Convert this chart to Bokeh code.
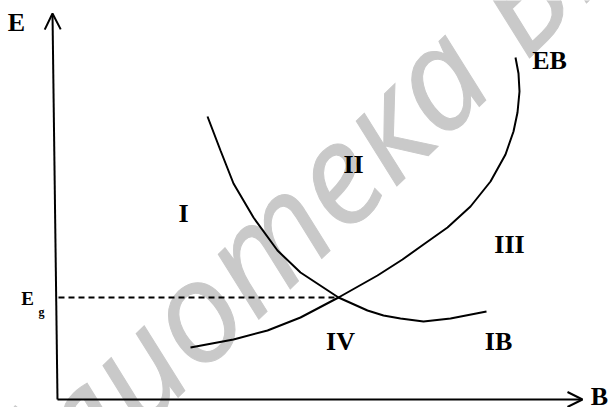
from bokeh.plotting import figure
from bokeh.models import Range1d, Arrow, OpenHead, Label, ColumnDataSource
from bokeh.core.properties import value
from bokeh.embed import file_html
from bokeh.resources import INLINE

# EB curve (B, E)
eb_b = [134, 177, 211, 244, 282, 321, 346, 367, 391, 414, 434, 449, 457, 461, 463, 462, 459]
eb_e = [52, 60, 69, 82, 102, 124, 140, 155, 172, 193, 218, 245, 268, 287, 308, 326, 342]
# IB curve (B, E)
ib_b = [151, 164, 177, 197, 221, 244, 282, 311, 327, 344, 367, 394, 430]
ib_e = [283, 249, 216, 182, 149, 127, 102, 89, 84, 81, 78, 81, 88]
# equilibrium point
eg_b = 282
eg_e = 102
# axis extents
b_max = 526
e_max = 386
e_axis_top_b = -4

# region / curve labels
lbl_text = ["E", "B", "EB", "I", "II", "III", "IV", "IB", "E", "g"]
lbl_x = [-40, 543, 493, 127, 297, 453, 284, 442, -29, -15]
lbl_y = [377, 3, 339, 186, 235, 155, 58, 58, 101, 88]
lbl_size = ["26px", "26px", "26px", "26px", "26px", "26px", "26px", "26px", "19px", "12px"]

p = figure(width=609, height=407, x_range=Range1d(-56, 553), y_range=Range1d(-8, 399),
           output_backend="svg", toolbar_location=None,
           x_axis_type=None, y_axis_type=None, min_border=0)
p.outline_line_color = None
p.background_fill_color = "white"

# watermark
wm_kw = dict(x=105, y=62, angle=0.768, text_font="Open Sans", text_font_style="italic",
             text_font_size="140px", text_color="#c9c9c9", text_outline_color="#c9c9c9",
             text_baseline="alphabetic", level="underlay")
p.add_layout(Label(text="Библи", text_align="right", **wm_kw))
p.add_layout(Label(text="отека БГУИР", text_align="left", **wm_kw))

# axes with arrows
p.add_layout(Arrow(end=OpenHead(size=16, line_width=2, line_color="black"),
                   x_start=1, y_start=0, x_end=e_axis_top_b, y_end=e_max,
                   line_width=2, line_color="black"))
p.add_layout(Arrow(end=OpenHead(size=15, line_width=2, line_color="black"),
                   x_start=1, y_start=0, x_end=b_max, y_end=0,
                   line_width=2, line_color="black"))

# dashed E_g line
p.line(x=[2, eg_b], y=[eg_e, eg_e], line_dash="6 4", line_width=2, line_color="black")

# curves
p.line(x=eb_b, y=eb_e, line_width=2, line_color="black")
p.line(x=ib_b, y=ib_e, line_width=2, line_color="black")

src = ColumnDataSource(dict(x=lbl_x, y=lbl_y, t=lbl_text, s=lbl_size))
p.text(x="x", y="y", text="t", source=src, text_font=value("Liberation Serif"),
       text_font_style="bold", text_font_size="s", text_align="center",
       text_baseline="middle", text_color="black")

open("out.html", "w").write(file_html(p, INLINE))
